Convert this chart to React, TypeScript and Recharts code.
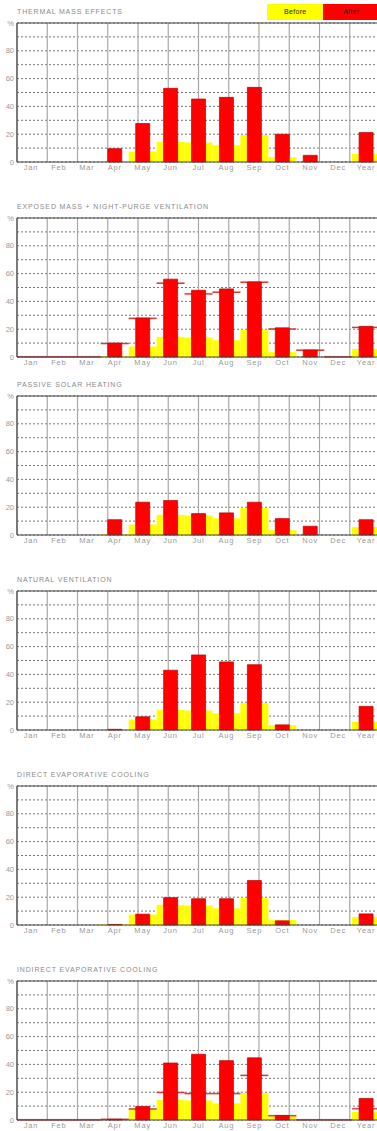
import React from 'react';
import { ComposedChart, Bar, XAxis, YAxis, CartesianGrid, ReferenceLine } from 'recharts';

const months = ['Jan', 'Feb', 'Mar', 'Apr', 'May', 'Jun', 'Jul', 'Aug', 'Sep', 'Oct', 'Nov', 'Dec', 'Year'];

// comfort hours (%) before any strategy, same for every panel
const before = [0, 0, 0, 0.5, 7.5, 14.5, 14, 12, 19.5, 3.5, 0, 0, 5.8];

const thermalMass = [0, 0, 0, 9.6, 27.7, 53, 45.3, 46.5, 53.7, 20, 4.8, 0, 21.2];
const nightPurge = [0, 0, 0, 10, 28, 56, 48, 49, 54, 21, 5, 0, 22];
const passiveSolar = [0, 0, 0, 11, 23.6, 24.8, 15.4, 15.9, 23.6, 11.8, 6.3, 0, 11];
const naturalVent = [0, 0, 0, 0.5, 9.5, 43, 54, 49, 47, 3.7, 0, 0, 17];
const directEvap = [0, 0, 0, 0.4, 7.8, 19.7, 18.9, 18.9, 32, 3, 0, 0, 8];
const indirectEvap = [0, 0, 0, 0.5, 9.7, 41, 47.3, 42.7, 44.7, 3.2, 0, 0, 15.5];

// grid every 10, labels every 20, "%" at the top
const yTicks = [0, 10, 20, 30, 40, 50, 60, 70, 80, 90, 100];
const yLabels = ['0', '', '20', '', '40', '', '60', '', '80', '', '%'];

const panels = [
  { title: 'THERMAL MASS EFFECTS', after: thermalMass, top: 22.7 },
  { title: 'EXPOSED MASS + NIGHT-PURGE VENTILATION', after: nightPurge, prior: thermalMass, top: 218.3 },
  { title: 'PASSIVE SOLAR HEATING', after: passiveSolar, top: 395.7 },
  { title: 'NATURAL VENTILATION', after: naturalVent, top: 590.7 },
  { title: 'DIRECT EVAPORATIVE COOLING', after: directEvap, top: 785.7 },
  { title: 'INDIRECT EVAPORATIVE COOLING', after: indirectEvap, prior: directEvap, top: 980.7 },
];

const FONT = '"Liberation Sans", Arial, sans-serif';
const MT = 5;
const PLOT_H = 139;
const X_H = 14;

// boundaries between month cells on a 0..13 number axis
const cellEdges = months.slice(1).map((_, i) => i + 1);

const PriorLine = (props: any) => {
  const { x, y, width, height } = props;
  const yy = y + (height < 0 ? height : 0);
  return (
    <g>
      <line x1={x} x2={x + width} y1={yy} y2={yy} stroke="#e84040" strokeWidth={1.3} />
      <line x1={x} x2={x + width} y1={yy - 0.6} y2={yy - 0.6} stroke="#902828" strokeWidth={0.4} />
    </g>
  );
};

type PanelProps = { title: string; after: number[]; prior?: number[]; top: number };

const Panel = ({ title, after, prior, top }: PanelProps) => {
  const rows = months.map((m, i) => ({ m, before: before[i], after: after[i], prior: prior ? prior[i] : undefined }));
  return (
    <div style={{ position: 'absolute', left: 0, top: top - MT }}>
      <div
        style={{
          position: 'absolute', left: 17, top: -11, fontSize: 7, letterSpacing: 0.85,
          color: '#8a8a8a', whiteSpace: 'nowrap', lineHeight: '9px',
        }}
      >
        {title}
      </div>
      <ComposedChart width={380} height={MT + PLOT_H + X_H} data={rows}
        margin={{ top: MT, right: 0, left: 0, bottom: 0 }} barCategoryGap={0} barGap={0}>
        <XAxis xAxisId="cat" dataKey="m" interval={0} height={X_H} tickLine={false} tickSize={0} tickMargin={3}
          axisLine={{ stroke: '#444', strokeWidth: 1.2 }}
          tick={{ fontSize: 7.5, fill: '#9a9a9a', letterSpacing: 0.8, fontFamily: FONT }} />
        <XAxis xAxisId="prior" dataKey="m" hide />
        <XAxis xAxisId="red" dataKey="m" hide />
        <XAxis xAxisId="grid" type="number" domain={[0, 13]} ticks={cellEdges} hide />
        <YAxis domain={[0, 100]} ticks={yTicks} width={17} interval={0} tickLine={false} tickSize={0} tickMargin={3}
          axisLine={{ stroke: '#444', strokeWidth: 1.2 }}
          tick={{ fontSize: 7.5, fill: '#9a9a9a', fontFamily: FONT }}
          tickFormatter={(v: number) => yLabels[yTicks.indexOf(v)]} />
        <CartesianGrid xAxisId="grid" vertical={false} stroke="#555" strokeWidth={0.8} strokeDasharray="2 2" />
        <CartesianGrid xAxisId="grid" horizontal={false} stroke="#a8a8a8" strokeWidth={1.2} />
        <ReferenceLine xAxisId="grid" x={12} stroke="#222" strokeWidth={1.2} />
        <ReferenceLine xAxisId="grid" y={100} stroke="#444" strokeWidth={1.2} />
        <Bar xAxisId="cat" dataKey="before" fill="#ffff00" isAnimationActive={false} />
        {prior && <Bar xAxisId="prior" dataKey="prior" shape={PriorLine} isAnimationActive={false} />}
        <Bar xAxisId="red" dataKey="after" barSize={14} fill="#ff0000" stroke="#c00000" strokeWidth={0.7}
          isAnimationActive={false} />
      </ComposedChart>
    </div>
  );
};

export default function App() {
  return (
    <div style={{ position: 'absolute', left: 0, top: 0, width: 377, height: 1131, overflow: 'hidden', background: '#fff', fontFamily: FONT }}>
      <div style={{ position: 'absolute', left: 267.3, top: 3.5, width: 56, height: 16.5, background: '#ffff00',
        fontSize: 7, lineHeight: '16.5px', textAlign: 'center', color: '#222', letterSpacing: 0.3 }}>Before</div>
      <div style={{ position: 'absolute', left: 323.3, top: 3.5, width: 56, height: 16.5, background: '#ff0000',
        fontSize: 7, lineHeight: '16.5px', textAlign: 'center', color: '#222', letterSpacing: 0.3 }}>After</div>
      {panels.map((p) => (
        <Panel key={p.title} {...p} />
      ))}
    </div>
  );
}
